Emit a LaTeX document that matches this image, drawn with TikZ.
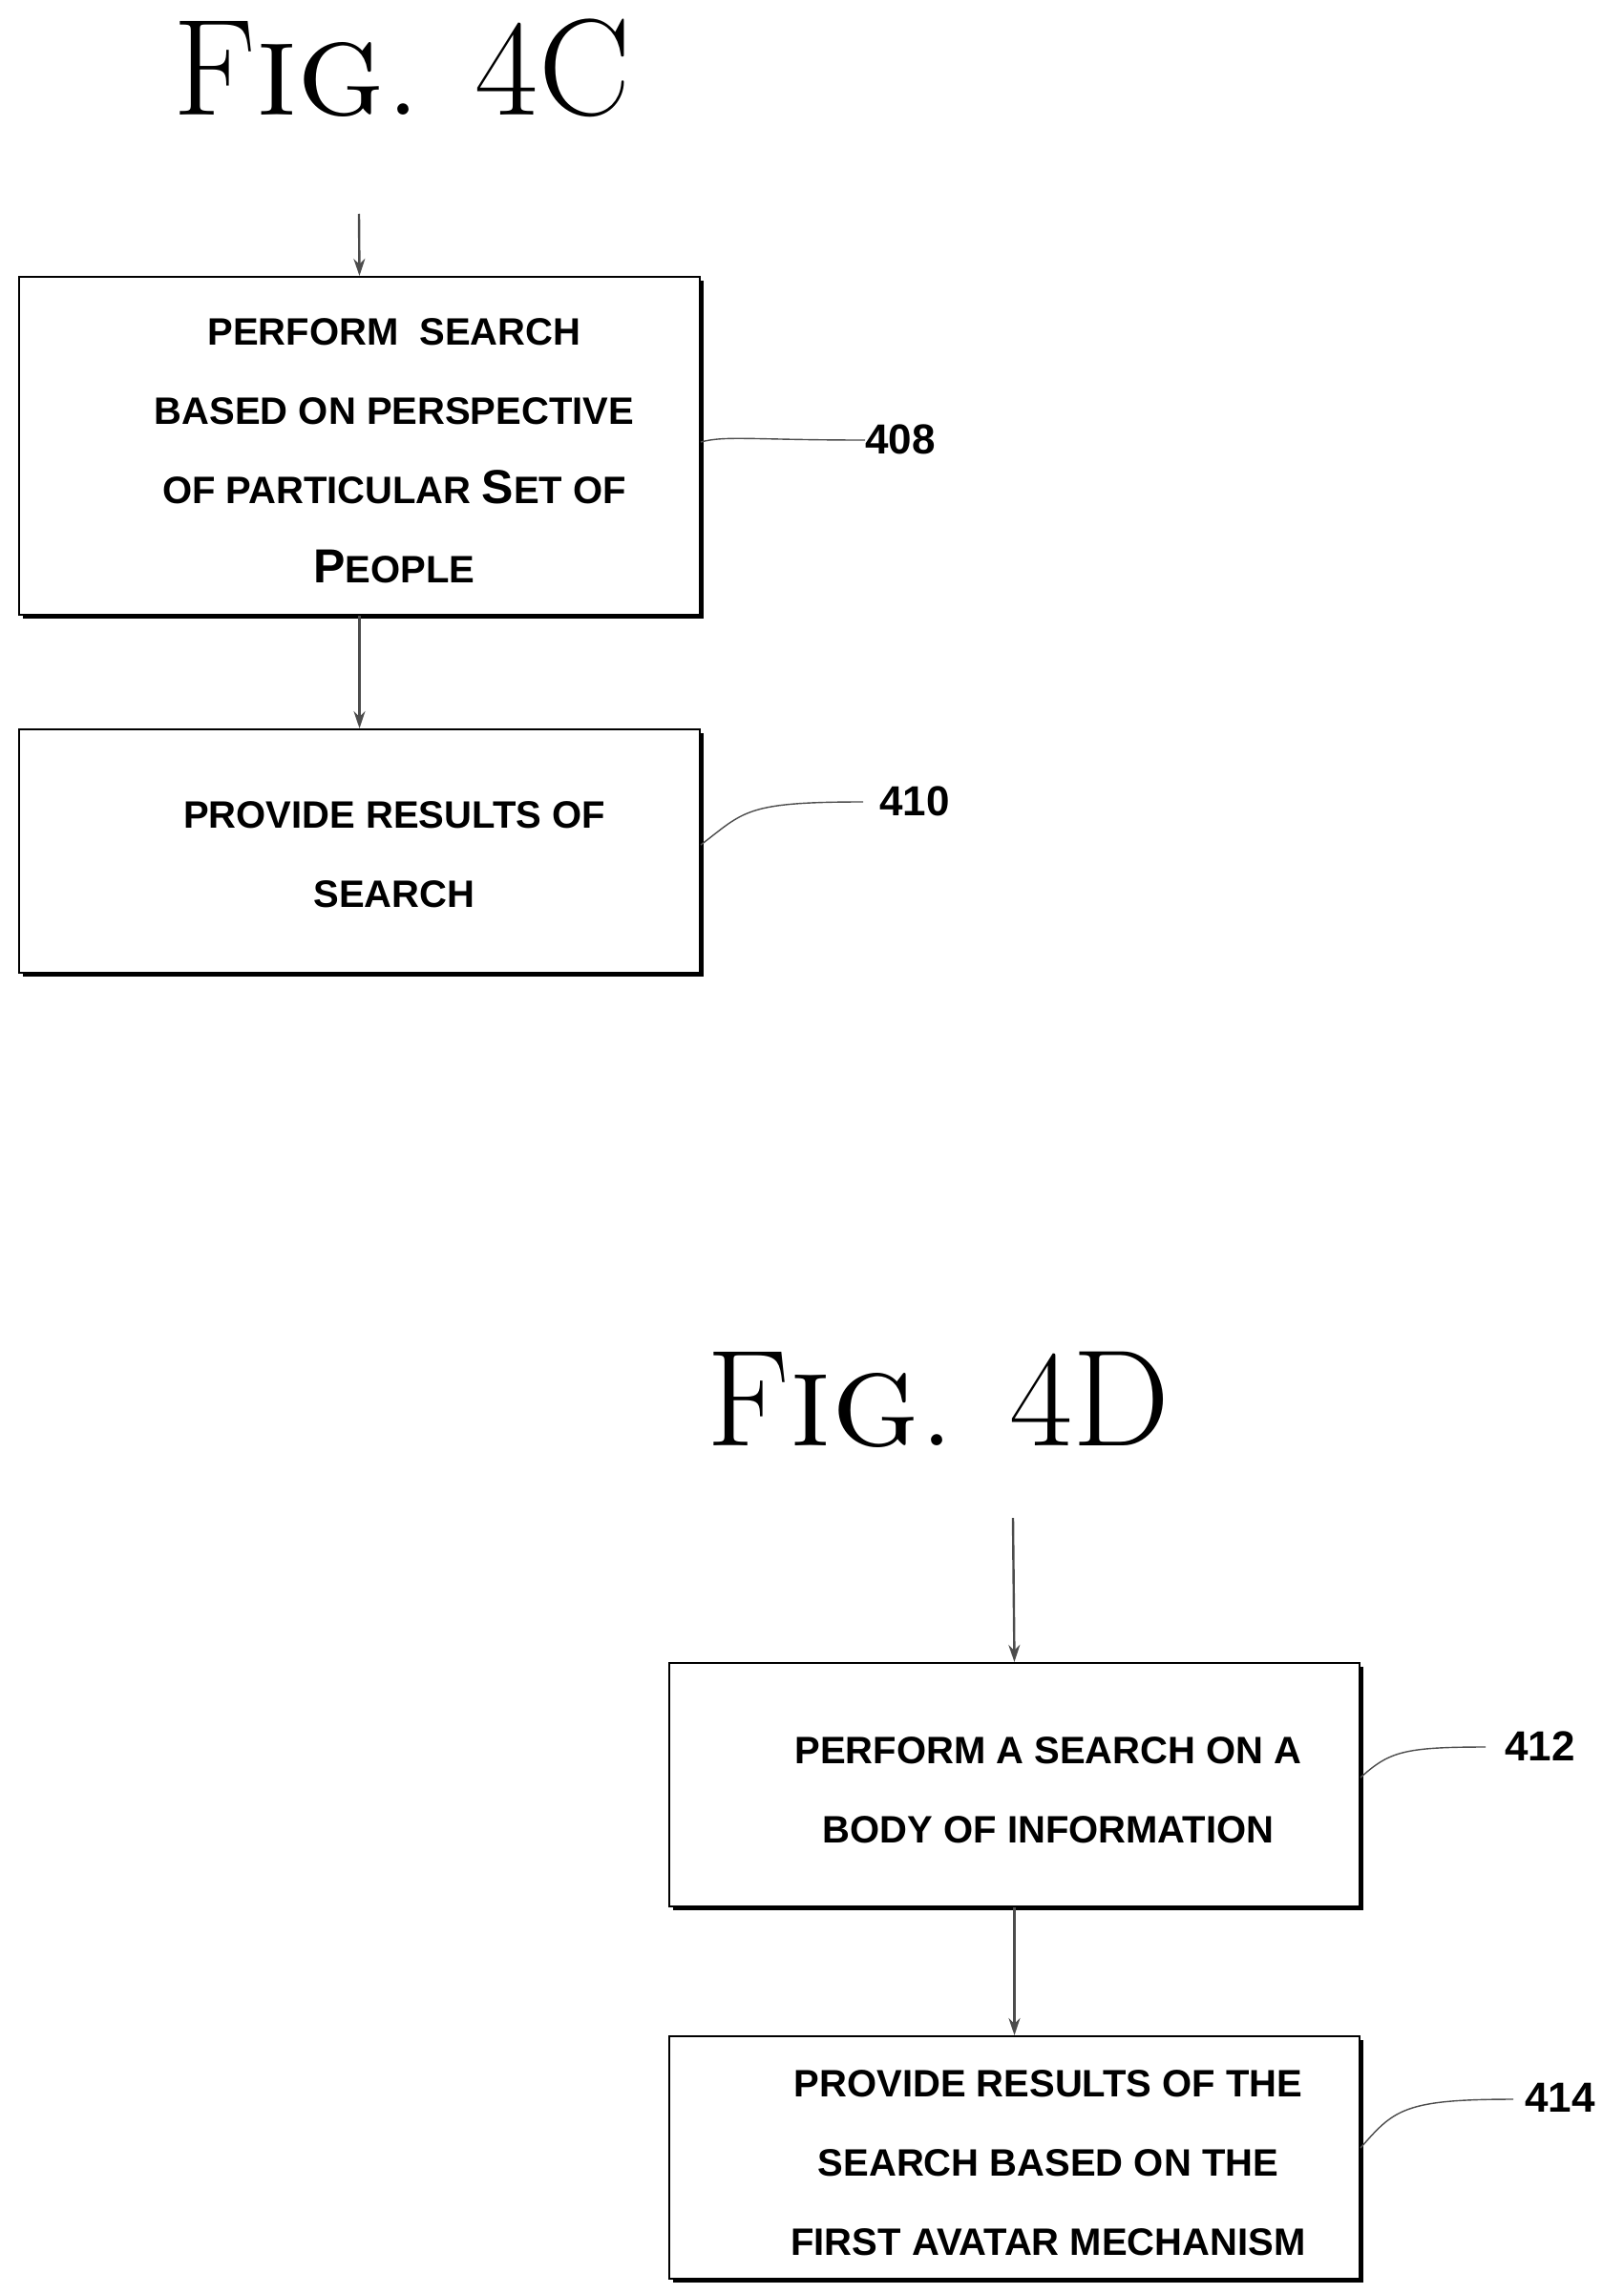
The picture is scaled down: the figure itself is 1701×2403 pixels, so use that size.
\documentclass[tikz,border=0pt]{standalone}
\usepackage{fontspec}
\setsansfont{Liberation Sans}
\usetikzlibrary{shadows,arrows.meta}
\begin{document}
\begin{tikzpicture}[x=0.5pt,y=-0.5pt,
 box/.style={draw=black,line width=1pt,fill=white,rectangle,inner sep=0pt,
   drop shadow={shadow xshift=1.8pt,shadow yshift=-1.8pt,fill=black,opacity=1}},
 txt/.style={align=center,font=\sffamily\bfseries\fontsize{20}{41.5}\selectfont,inner sep=0pt},
 num/.style={font=\sffamily\bfseries\fontsize{22}{26}\selectfont,inner sep=0pt},
 title/.style={font=\fontsize{72}{80}\selectfont,inner sep=0pt,anchor=base},
 arr/.style={draw=black!70,line width=1.2pt,-{Stealth[length=9pt,width=6pt]}},
 lead/.style={draw=black!70,line width=0.7pt}]
\useasboundingbox (0,0) rectangle (1701,2403);
\node[title] (t1) at (421,120) {F\textsc{ig}. 4C};
\node[title] (t2) at (983,1514) {F\textsc{ig}. 4D};
% boxes
\node[box,minimum width=356.5pt,minimum height=177pt] (b1) at (376.5,467) {};
\node[box,minimum width=356.5pt,minimum height=127.5pt] (b2) at (376.5,891.5) {};
\node[box,minimum width=361.5pt,minimum height=127.5pt] (b3) at (1062.5,1869.5) {};
\node[box,minimum width=361.5pt,minimum height=127pt] (b4) at (1062.5,2260) {};
% texts
\node[txt] (x1) at (413,472) {PERFORM\ \ SEARCH\\BASED ON PERSPECTIVE\\OF PARTICULAR {\fontsize{25}{41.5}\selectfont S}ET OF\\{\fontsize{25}{41.5}\selectfont P}EOPLE};
\node[txt] (x2) at (413,895) {PROVIDE RESULTS OF\\SEARCH};
\node[txt] (x3) at (1098,1875) {PERFORM A SEARCH ON A\\BODY OF INFORMATION};
\node[txt] (x4) at (1098,2266) {PROVIDE RESULTS OF THE\\SEARCH BASED ON THE\\FIRST AVATAR MECHANISM};
% arrows
\coordinate (s0) at (376,224);
\coordinate (s3) at (1061,1590);
\draw[arr] (s0) -- (b1.north);
\draw[arr] (b1.south) -- (b2.north);
\draw[arr] (s3) -- (b3.north);
\draw[arr] (b3.south) -- (b4.north);
% reference numbers
\node[num,anchor=west] (n1) at (906,460) {408};
\node[num,anchor=west] (n2) at (921,839) {410};
\node[num,anchor=west] (n3) at (1576,1829) {412};
\node[num,anchor=west] (n4) at (1597,2197) {414};
\coordinate (e1) at (906,461);
\coordinate (e2) at (904,840);
\coordinate (e3) at (1556,1830);
\coordinate (e4) at (1585,2199);
\draw[lead] (b1.east |- 0,463) .. controls (760,456) and (790,461) .. (e1);
\draw[lead] (b2.east |- 0,885) .. controls (780,850) and (780,840) .. (e2);
\draw[lead] (b3.east |- 0,1862) .. controls (1455,1835) and (1470,1830) .. (e3);
\draw[lead] (b4.east |- 0,2250) .. controls (1460,2210) and (1470,2199) .. (e4);
\end{tikzpicture}
\end{document}
